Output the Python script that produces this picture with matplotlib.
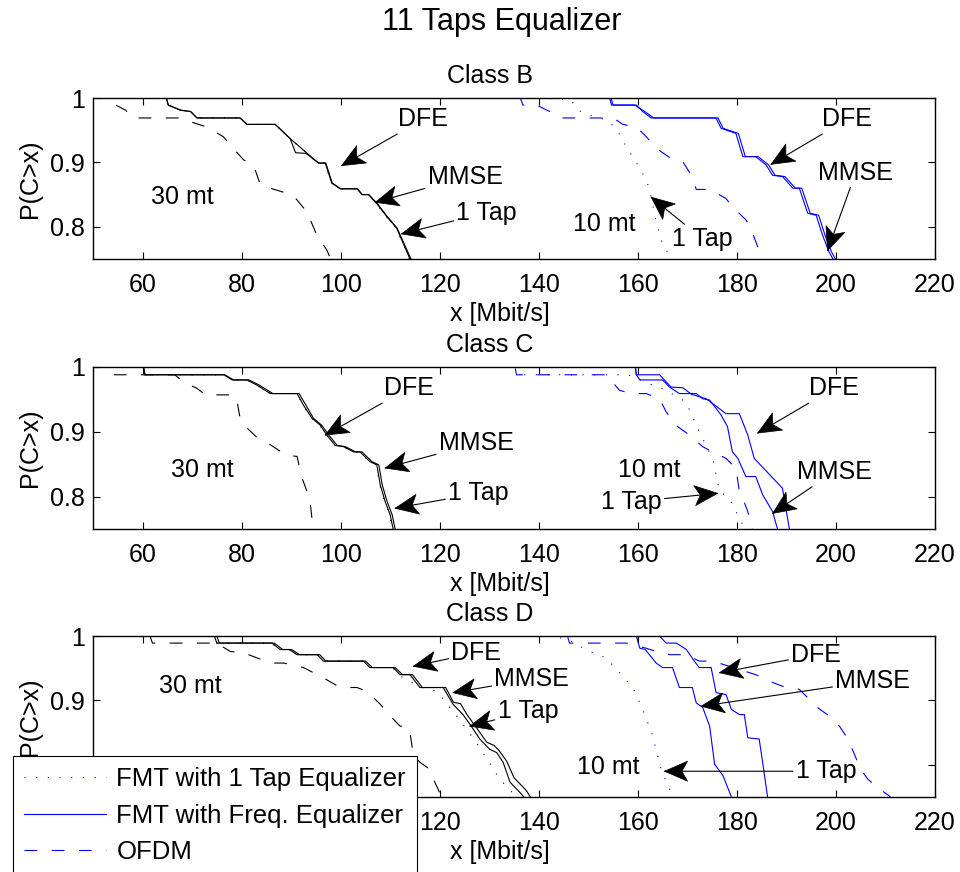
import numpy as np
import matplotlib.pyplot as plt
from matplotlib.lines import Line2D
from matplotlib.patches import Polygon

plt.rcParams['font.family'] = ['Liberation Sans', 'DejaVu Sans']

# --- data ---
# Class B, 30 mt
b30_ofdm_x = [50, 53.8, 54.6, 56.6, 58.0, 59.6, 67.7, 69.7, 73.0, 76.3, 78.3, 80.4, 82.4, 83.8, 85.8, 90.4, 93.2, 95.2, 97.2, 98.0]
b30_ofdm_y = [1.0, 1.0, 0.989, 0.981, 0.969, 0.969, 0.969, 0.963, 0.955, 0.940, 0.922, 0.904, 0.896, 0.865, 0.860, 0.849, 0.823, 0.787, 0.764, 0.75]
b30_tap1_x = [50, 64.8, 65.2, 67.7, 69.7, 71.0, 79.7, 81.1, 86.8, 89.8, 95.4, 96.8, 98.1, 99.8, 103.2, 104.2, 105.5, 107.2, 109.2, 111.2, 113.9]
b30_tap1_y = [1.0, 1.0, 0.989, 0.981, 0.979, 0.969, 0.969, 0.959, 0.959, 0.937, 0.899, 0.899, 0.868, 0.859, 0.859, 0.850, 0.850, 0.836, 0.816, 0.798, 0.75]
b30_mmse_x = [50, 64.8, 65.2, 67.7, 69.7, 71.0, 79.7, 81.1, 86.8, 89.8, 95.5, 96.9, 98.2, 99.9, 103.3, 104.3, 105.6, 107.3, 109.3, 111.3, 114.0]
b30_mmse_y = [1.0, 1.0, 0.989, 0.981, 0.979, 0.969, 0.969, 0.959, 0.959, 0.937, 0.899, 0.899, 0.868, 0.859, 0.859, 0.850, 0.850, 0.836, 0.816, 0.798, 0.75]
b30_dfe_x = [50, 64.8, 65.2, 67.7, 69.7, 71.0, 79.7, 81.1, 86.8, 89.8, 90.9, 93.0, 95.6, 97.0, 98.3, 100.0, 103.4, 104.4, 105.7, 107.4, 109.4, 111.4, 114.2]
b30_dfe_y = [1.0, 1.0, 0.989, 0.981, 0.979, 0.969, 0.969, 0.959, 0.959, 0.937, 0.915, 0.914, 0.899, 0.899, 0.868, 0.859, 0.859, 0.850, 0.850, 0.836, 0.816, 0.798, 0.75]
# Class B, 10 mt
b10_ofdm_x = [130, 136.3, 136.8, 139.6, 142.2, 144.2, 155.0, 157.0, 159.7, 161.7, 163.7, 167.1, 169.1, 170.8, 171.8, 174.5, 177.8, 179.1, 181.8, 182.8, 184.2, 185.5]
b10_ofdm_y = [1.0, 1.0, 0.989, 0.989, 0.979, 0.969, 0.969, 0.959, 0.955, 0.940, 0.922, 0.904, 0.901, 0.880, 0.858, 0.858, 0.844, 0.831, 0.811, 0.798, 0.769, 0.75]
b10_tap1_x = [140, 146.5, 147.9, 150.0, 153.6, 155.6, 157.7, 160.0, 161.7, 162.4, 163.7, 165.0, 166.4, 166.8]
b10_tap1_y = [1.0, 0.997, 0.981, 0.974, 0.966, 0.953, 0.924, 0.896, 0.873, 0.857, 0.808, 0.772, 0.756, 0.75]
b10_mmse_x = [150, 154.6, 155.0, 159.7, 161.0, 162.7, 175.8, 176.8, 179.8, 181.2, 183.8, 185.9, 187.2, 189.2, 191.3, 192.6, 194.3, 196.0, 197.3, 198.6, 199.4]
b10_mmse_y = [1.0, 1.0, 0.989, 0.989, 0.979, 0.969, 0.969, 0.953, 0.945, 0.909, 0.909, 0.896, 0.880, 0.878, 0.860, 0.860, 0.821, 0.818, 0.787, 0.761, 0.75]
b10_dfe_x = [150, 154.3, 154.7, 159.4, 161.4, 163.2, 176.2, 177.2, 180.3, 181.7, 184.3, 186.4, 187.7, 189.7, 191.8, 193.1, 194.8, 196.5, 197.8, 199.1, 199.9]
b10_dfe_y = [1.0, 1.0, 0.989, 0.989, 0.979, 0.969, 0.969, 0.953, 0.945, 0.909, 0.909, 0.896, 0.880, 0.878, 0.860, 0.860, 0.821, 0.818, 0.787, 0.761, 0.75]

# Class C, 30 mt
c30_ofdm_x = [50, 53.2, 53.5, 66.5, 67.3, 68.2, 71.0, 72.7, 78.4, 79.0, 79.7, 80.8, 83.0, 85.8, 89.0, 91.2, 92.1, 93.2, 93.9, 94.2, 94.6]
c30_ofdm_y = [1.0, 1.0, 0.988, 0.988, 0.983, 0.977, 0.967, 0.957, 0.957, 0.951, 0.921, 0.908, 0.892, 0.880, 0.864, 0.862, 0.831, 0.808, 0.787, 0.767, 0.75]
c30_tap1_x = [50, 60.2, 60.5, 76.4, 78.1, 81.1, 83.1, 85.8, 91.2, 92.4, 94.1, 95.8, 97.1, 98.8, 100.5, 102.5, 103.8, 105.8, 107.2, 107.9, 108.9, 109.9, 110.5]
c30_tap1_y = [1.0, 1.0, 0.988, 0.988, 0.980, 0.980, 0.972, 0.959, 0.959, 0.941, 0.921, 0.910, 0.895, 0.879, 0.877, 0.869, 0.869, 0.854, 0.849, 0.818, 0.792, 0.772, 0.75]
c30_mmse_x = [50, 60.2, 60.5, 76.4, 78.1, 81.1, 83.1, 85.8, 91.2, 92.5, 94.2, 95.9, 97.2, 98.9, 100.6, 102.6, 103.9, 105.9, 107.3, 108.0, 109.0, 110.0, 110.6]
c30_mmse_y = [1.0, 1.0, 0.988, 0.988, 0.980, 0.980, 0.972, 0.959, 0.959, 0.941, 0.921, 0.910, 0.895, 0.879, 0.877, 0.869, 0.869, 0.854, 0.849, 0.818, 0.792, 0.772, 0.75]
c30_dfe_x = [50, 60.2, 60.5, 76.6, 78.4, 81.5, 83.6, 86.3, 91.6, 93.0, 94.5, 96.2, 97.6, 99.3, 101.0, 103.0, 104.3, 106.3, 107.7, 108.4, 109.4, 110.4, 111.0]
c30_dfe_y = [1.0, 1.0, 0.988, 0.988, 0.980, 0.980, 0.972, 0.959, 0.959, 0.941, 0.921, 0.910, 0.895, 0.879, 0.877, 0.869, 0.869, 0.854, 0.849, 0.818, 0.792, 0.772, 0.75]
# Class C, 10 mt
c10_ofdm_x = [130, 135.2, 135.5, 153.5, 154.3, 156.3, 158.7, 161.7, 164.4, 165.7, 167.7, 170.4, 173.1, 175.1, 177.8, 179.8, 180.5, 181.2, 182.2, 183.1]
c10_ofdm_y = [1.0, 1.0, 0.988, 0.988, 0.982, 0.964, 0.959, 0.959, 0.951, 0.931, 0.910, 0.895, 0.877, 0.869, 0.859, 0.844, 0.808, 0.797, 0.777, 0.75]
c10_tap1_x = [136, 136.3, 158.0, 163.0, 165.7, 169.7, 172.4, 175.1, 176.5, 178.5, 180.5, 181.5, 181.7]
c10_tap1_y = [1.0, 0.988, 0.988, 0.972, 0.964, 0.946, 0.900, 0.859, 0.808, 0.797, 0.767, 0.752, 0.75]
c10_mmse_x = [155, 159.5, 159.7, 160.4, 165.0, 166.4, 168.4, 171.8, 173.1, 174.5, 176.8, 178.1, 179.1, 180.2, 181.8, 183.8, 185.2, 187.2, 188.2]
c10_mmse_y = [1.0, 1.0, 0.988, 0.980, 0.980, 0.969, 0.959, 0.959, 0.951, 0.949, 0.926, 0.908, 0.869, 0.859, 0.831, 0.831, 0.803, 0.777, 0.75]
c10_dfe_x = [155, 159.5, 159.7, 164.4, 166.7, 169.1, 170.8, 173.8, 177.8, 180.5, 182.2, 183.5, 189.2, 190.6]
c10_dfe_y = [1.0, 1.0, 0.988, 0.988, 0.969, 0.968, 0.958, 0.951, 0.928, 0.928, 0.895, 0.859, 0.813, 0.75]

# Class D, 30 mt
d30_ofdm_x = [50, 61.5, 62.0, 75.0, 77.7, 80.4, 83.1, 86.1, 88.5, 92.5, 94.5, 97.2, 99.9, 103.3, 105.3, 108.0, 110.0, 112.0, 113.3, 114.0, 114.7, 116.0, 118.0, 118.7, 119.7, 120.3]
d30_ofdm_y = [1.0, 1.0, 0.989, 0.989, 0.976, 0.974, 0.966, 0.958, 0.958, 0.951, 0.943, 0.932, 0.920, 0.920, 0.914, 0.894, 0.876, 0.860, 0.860, 0.850, 0.814, 0.804, 0.793, 0.778, 0.762, 0.75]
d30_tap1_x = [50, 74.5, 75.0, 86.1, 87.8, 89.6, 91.2, 95.3, 96.5, 104.6, 105.9, 110.5, 112.0, 116.0, 119.4, 123.4, 127.4, 132.1, 135.5]
d30_tap1_y = [1.0, 1.0, 0.989, 0.989, 0.979, 0.979, 0.971, 0.971, 0.961, 0.961, 0.951, 0.951, 0.938, 0.921, 0.914, 0.876, 0.835, 0.778, 0.75]
d30_mmse_x = [50, 74.5, 75.0, 86.1, 87.8, 89.6, 91.2, 95.3, 96.5, 104.6, 105.9, 110.6, 112.0, 114.0, 116.0, 120.7, 122.7, 124.7, 126.1, 128.1, 130.1, 131.5, 132.8, 134.2, 136.2, 137.0]
d30_mmse_y = [1.0, 1.0, 0.989, 0.989, 0.979, 0.979, 0.971, 0.971, 0.961, 0.961, 0.951, 0.951, 0.940, 0.940, 0.920, 0.920, 0.894, 0.878, 0.863, 0.840, 0.824, 0.819, 0.804, 0.773, 0.757, 0.75]
d30_dfe_x = [50, 75.0, 75.5, 86.6, 88.3, 90.1, 91.7, 95.8, 97.0, 105.0, 106.4, 111.0, 112.5, 114.5, 116.5, 121.2, 122.8, 124.2, 125.5, 127.2, 129.5, 131.0, 132.0, 133.5, 135.0, 137.5, 138.3]
d30_dfe_y = [1.0, 1.0, 0.989, 0.989, 0.979, 0.979, 0.971, 0.971, 0.961, 0.961, 0.951, 0.951, 0.940, 0.940, 0.920, 0.920, 0.897, 0.895, 0.878, 0.860, 0.835, 0.830, 0.822, 0.806, 0.780, 0.760, 0.75]
# Class D, 10 mt
d10_ofdm_x = [140, 145.8, 146.2, 157.7, 161.7, 163.7, 166.4, 169.8, 172.4, 175.1, 183.8, 186.5, 189.2, 192.6, 194.6, 195.9, 198.6, 200.7, 202.0, 203.3, 205.0, 206.4, 208.7, 210.7, 211.0]
d10_ofdm_y = [1.0, 1.0, 0.989, 0.989, 0.981, 0.976, 0.971, 0.971, 0.961, 0.961, 0.940, 0.930, 0.922, 0.917, 0.902, 0.891, 0.876, 0.860, 0.845, 0.824, 0.793, 0.778, 0.763, 0.752, 0.75]
d10_tap1_x = [142, 146.0, 147.6, 150.3, 153.6, 156.3, 159.0, 161.0, 163.0, 164.7, 166.7, 167.0]
d10_tap1_y = [1.0, 0.995, 0.987, 0.976, 0.966, 0.943, 0.920, 0.886, 0.845, 0.793, 0.757, 0.75]
d10_mmse_x = [155, 159.7, 160.4, 161.5, 163.7, 165.0, 167.0, 168.4, 171.0, 171.8, 173.1, 174.5, 175.5, 177.2, 178.9]
d10_mmse_y = [1.0, 1.0, 0.981, 0.979, 0.958, 0.951, 0.951, 0.920, 0.920, 0.896, 0.889, 0.860, 0.801, 0.783, 0.75]
d10_dfe_x = [160, 164.4, 165.7, 167.8, 169.8, 170.8, 171.4, 172.4, 174.8, 175.8, 177.8, 178.9, 180.5, 181.5, 182.2, 184.5, 185.2, 186.2]
d10_dfe_y = [1.0, 1.0, 0.989, 0.989, 0.979, 0.968, 0.961, 0.951, 0.951, 0.912, 0.909, 0.886, 0.878, 0.878, 0.842, 0.840, 0.804, 0.75]

x_ticks = [60, 80, 100, 120, 140, 160, 180, 200, 220]
y_ticks = [0.8, 0.9, 1.0]
y_tick_labels = ['0.8', '0.9', '1']
legend_labels = ['FMT with 1 Tap Equalizer', 'FMT with Freq. Equalizer', 'OFDM']

BLUE = '#0000ff'
DASH = (0, (11.5, 13))
DOT = (0, (1, 9.5))
FS = 18
W, H = 960, 872


def px_rect(left, top, right, bottom):
    """pixel box -> figure fraction rect"""
    return [left / W, 1 - bottom / H, (right - left) / W, (bottom - top) / H]


def draw_curves(ax, color, ofdm, tap1, mmse, dfe):
    ax.plot(*ofdm, color=color, lw=0.8, ls=DASH)
    ax.plot(*tap1, color=color, lw=0.8, ls=DOT)
    ax.plot(*mmse, color=color, lw=0.8)
    ax.plot(*dfe, color=color, lw=0.8)


def note(ax, label, tip, text_at):
    """text + line + MATLAB-like swept-back arrow head"""
    ax.annotate(label, xy=tip, xytext=text_at, ha='center', va='center', fontsize=FS,
                arrowprops=dict(arrowstyle='-', color='black', lw=0.8,
                                shrinkA=0, shrinkB=0))
    # head built in pixels, then mapped back to data
    p_tip = ax.transData.transform(tip)
    p_tail = ax.transData.transform(text_at)
    d = p_tail - p_tip
    d = d / np.hypot(*d)
    n = np.array([-d[1], d[0]])
    L, w = 23, 10
    pts = [p_tip, p_tip + L * d + w * n, p_tip + 0.75 * L * d, p_tip + L * d - w * n]
    verts = ax.transData.inverted().transform(np.array(pts))
    ax.add_patch(Polygon(verts, closed=True, facecolor='black', edgecolor='black',
                         lw=0.5, clip_on=False, zorder=4))


def setup_axes(ax, title):
    ax.set_xlim(50, 220)
    ax.set_ylim(0.75, 1)
    ax.set_xticks(x_ticks)
    ax.set_yticks(y_ticks)
    ax.set_yticklabels(y_tick_labels)
    ax.tick_params(direction='in', top=True, right=True, length=5, width=0.8, labelsize=FS)
    ax.tick_params(axis='x', pad=10)
    ax.tick_params(axis='y', pad=6)
    for s in ax.spines.values():
        s.set_linewidth(1.0)
    ax.set_title(title, fontsize=FS, pad=11, x=(490 - 93) / 842)
    ax.set_xlabel('x [Mbit/s]', fontsize=FS, va='center')
    ax.xaxis.set_label_coords((500 - 93) / 842, -55 / 161)
    ax.set_ylabel('P(C>x)', fontsize=FS, va='center')
    ax.yaxis.set_label_coords((30 - 93) / 842, 0.5)


fig = plt.figure(figsize=(W / 100, H / 100), dpi=100)
fig.text(502 / W, 1 - 22 / H, '11 Taps Equalizer', ha='center', va='center', fontsize=22)

# --- Class B ---
ax1 = fig.add_axes(px_rect(93, 98, 935, 259))
setup_axes(ax1, 'Class B')
draw_curves(ax1, 'black', (b30_ofdm_x, b30_ofdm_y), (b30_tap1_x, b30_tap1_y),
            (b30_mmse_x, b30_mmse_y), (b30_dfe_x, b30_dfe_y))
draw_curves(ax1, BLUE, (b10_ofdm_x, b10_ofdm_y), (b10_tap1_x, b10_tap1_y),
            (b10_mmse_x, b10_mmse_y), (b10_dfe_x, b10_dfe_y))
note(ax1, 'DFE', (100.2, 0.895), (116.7, 0.967))
note(ax1, 'MMSE', (107.0, 0.838), (125.1, 0.877))
note(ax1, '1 Tap', (112.3, 0.789), (129.5, 0.822))
ax1.text(68, 0.846, '30 mt', ha='center', va='center', fontsize=FS)
note(ax1, 'DFE', (186.9, 0.897), (202.3, 0.967))
note(ax1, 'MMSE', (198.3, 0.763), (204.0, 0.884))
ax1.text(153.3, 0.804, '10 mt', ha='center', va='center', fontsize=FS)
note(ax1, '1 Tap', (162.7, 0.846), (173.1, 0.781))

# --- Class C ---
ax2 = fig.add_axes(px_rect(93, 367, 935, 529))
setup_axes(ax2, 'Class C')
draw_curves(ax2, 'black', (c30_ofdm_x, c30_ofdm_y), (c30_tap1_x, c30_tap1_y),
            (c30_mmse_x, c30_mmse_y), (c30_dfe_x, c30_dfe_y))
draw_curves(ax2, BLUE, (c10_ofdm_x, c10_ofdm_y), (c10_tap1_x, c10_tap1_y),
            (c10_mmse_x, c10_mmse_y), (c10_dfe_x, c10_dfe_y))
note(ax2, 'DFE', (96.9, 0.895), (113.7, 0.967))
note(ax2, 'MMSE', (109.0, 0.844), (127.4, 0.882))
note(ax2, '1 Tap', (111.0, 0.782), (127.8, 0.805))
ax2.text(72.0, 0.841, '30 mt', ha='center', va='center', fontsize=FS)
note(ax2, 'DFE', (184.2, 0.898), (199.6, 0.967))
note(ax2, 'MMSE', (187.2, 0.774), (199.6, 0.838))
ax2.text(162.4, 0.841, '10 mt', ha='center', va='center', fontsize=FS)
note(ax2, '1 Tap', (176.1, 0.805), (158.7, 0.792))

# --- Class D ---
ax3 = fig.add_axes(px_rect(93, 636, 935, 797))
setup_axes(ax3, 'Class D')
draw_curves(ax3, 'black', (d30_ofdm_x, d30_ofdm_y), (d30_tap1_x, d30_tap1_y),
            (d30_mmse_x, d30_mmse_y), (d30_dfe_x, d30_dfe_y))
draw_curves(ax3, BLUE, (d10_ofdm_x, d10_ofdm_y), (d10_tap1_x, d10_tap1_y),
            (d10_mmse_x, d10_mmse_y), (d10_dfe_x, d10_dfe_y))
note(ax3, 'DFE', (114.7, 0.953), (127.4, 0.974))
note(ax3, 'MMSE', (122.7, 0.912), (138.6, 0.933))
note(ax3, '1 Tap', (126.1, 0.860), (137.8, 0.883))
ax3.text(69.7, 0.922, '30 mt', ha='center', va='center', fontsize=FS)
note(ax3, 'DFE', (176.5, 0.943), (196.0, 0.971))
note(ax3, 'MMSE', (172.8, 0.891), (207.4, 0.930))
ax3.text(154.0, 0.796, '10 mt', ha='center', va='center', fontsize=FS)
note(ax3, '1 Tap', (165.4, 0.790), (198.0, 0.790))

# legend (sits over the lower-left corner, cut by the figure edge like the original)
handles = [Line2D([], [], color=BLUE, lw=0.8, ls=DOT),
           Line2D([], [], color=BLUE, lw=0.8),
           Line2D([], [], color=BLUE, lw=0.8, ls=DASH)]
leg = fig.legend(handles, legend_labels, loc='upper left',
                 bbox_to_anchor=(13 / W, 1 - 756 / H), bbox_transform=fig.transFigure,
                 fontsize=18.5, frameon=True, fancybox=False, framealpha=1,
                 edgecolor='black', borderpad=0.42, borderaxespad=0, labelspacing=0.5,
                 handlelength=3.2, handletextpad=0.4)
leg.get_frame().set_linewidth(0.8)

fig.savefig('out.png', dpi=100)
